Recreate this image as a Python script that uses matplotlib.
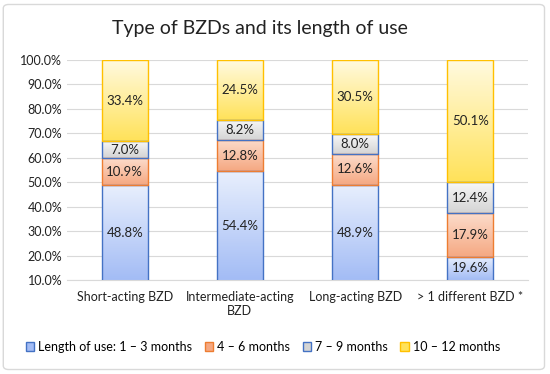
import matplotlib
matplotlib.use("Agg")
import matplotlib.pyplot as plt
import numpy as np
from matplotlib.patches import Patch, FancyBboxPatch
from matplotlib.colors import LinearSegmentedColormap

plt.rcParams['font.family'] = ['Lato', 'DejaVu Sans']

categories = ["Short-acting BZD", "Intermediate-acting\nBZD", "Long-acting BZD", "> 1 different BZD *"]
series_names = ["Length of use: 1 \u2013 3 months", "4 \u2013 6 months", "7 \u2013 9 months", "10 \u2013 12 months"]
m1_3 = [48.8, 54.4, 48.9, 19.6]
m4_6 = [10.9, 12.8, 12.6, 17.9]
m7_9 = [7.0, 8.2, 8.0, 12.4]
m10_12 = [33.4, 24.5, 30.5, 50.1]

# (top colour, bottom colour, edge colour)
styles = [
    ("#e8effd", "#a3bcf5", "#4472c4"),
    ("#fcdccb", "#f5a882", "#ed7d31"),
    ("#f8f8f8", "#d4d4d4", "#4472c4"),
    ("#fffae0", "#ffe25a", "#ffc000"),
]

fig = plt.figure(figsize=(5.5, 3.74), dpi=100)
ax = fig.add_axes([0.122, 0.251, 0.838, 0.589])

ymin, ymax = 10, 100
x = np.arange(len(categories))
width = 0.4
bottom = np.zeros(len(categories))

for vals, (ctop, cbot, cedge) in zip([m1_3, m4_6, m7_9, m10_12], styles):
    vals = np.array(vals)
    cmap = LinearSegmentedColormap.from_list("g", [cbot, ctop])
    bars = ax.bar(x, vals, width, bottom=bottom, facecolor="none",
                  edgecolor=cedge, linewidth=1.0, zorder=3)
    for i, b in enumerate(bars):
        lo = max(bottom[i], ymin)
        hi = min(bottom[i] + vals[i], ymax)
        grad = np.linspace(0, 1, 100).reshape(-1, 1)
        ax.imshow(grad, cmap=cmap, origin="lower", aspect="auto",
                  extent=[x[i] - width / 2, x[i] + width / 2, lo, hi], zorder=2)
        ax.text(x[i], (lo + hi) / 2, f"{vals[i]:.1f}%", ha="center", va="center",
                fontsize=9.5, color="#222222", zorder=4)
    bottom = bottom + vals

ax.set_xlim(-0.5, len(categories) - 0.5)
ax.set_ylim(ymin, ymax)
ax.set_yticks(np.arange(10, 101, 10))
ax.set_yticklabels([f"{v:.1f}%" for v in np.arange(10, 101, 10)])
ax.set_xticks(x)
ax.set_xticklabels(categories)
ax.tick_params(length=0, labelsize=9, colors="#222222")
ax.tick_params(axis="x", pad=8)
for lab in ax.get_xticklabels():
    lab.set_multialignment("center")
ax.grid(axis="y", color="#d9d9d9", linewidth=0.8, zorder=0)
ax.set_axisbelow(True)
for s in ["top", "right", "left"]:
    ax.spines[s].set_visible(False)
ax.spines["bottom"].set_color("#d9d9d9")

fig.text(0.473, 0.925, "Type of BZDs and its length of use", ha="center", va="center",
         fontsize=14, color="#222222")

handles = [Patch(facecolor=s[1], edgecolor=s[2], linewidth=1.0) for s in styles]
fig.legend(handles, series_names, loc="center", bbox_to_anchor=(0.478, 0.072), ncol=4,
           frameon=False, fontsize=9, handlelength=0.7, handleheight=0.7,
           handletextpad=0.3, columnspacing=1.0)

frame = FancyBboxPatch((0.006, 0.012), 0.984, 0.976, boxstyle="round,pad=0,rounding_size=0.01",
                       transform=fig.transFigure, facecolor="none", edgecolor="#d9d9d9",
                       linewidth=1.0)
fig.patches.append(frame)

fig.savefig("out.png", dpi=100)
